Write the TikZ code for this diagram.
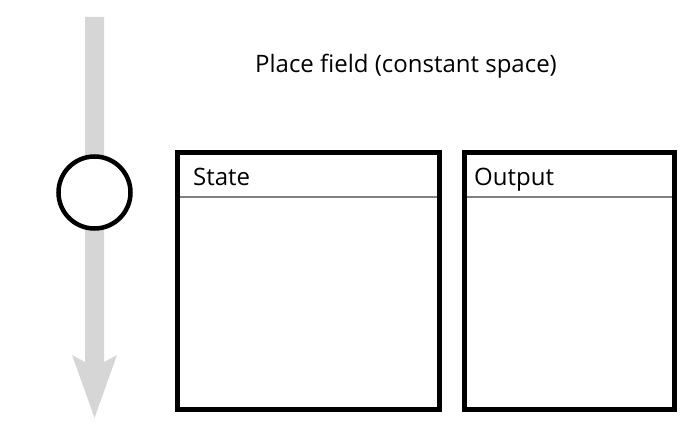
\documentclass[tikz,border=0pt]{standalone}
\usepackage{fontspec}
\setmainfont{Open Sans}
\begin{document}
\begin{tikzpicture}[x=1pt,y=-1pt,
  panel/.style={draw=black,line width=5pt,fill=white},
  sep/.style={draw=black!50,line width=2.5pt},
  lbl/.style={anchor=base west,inner sep=0pt,font=\fontsize{24}{28}\selectfont},
  ring/.style={circle,draw=black,line width=4.5pt,fill=white,minimum size=72pt,inner sep=0pt},
  flow/.style={fill=black!16}]
\useasboundingbox (0,0) rectangle (700,435);
% arrow
\fill[flow] (85,17) -- (104,17) -- (104,362) -- (117,355) -- (94.5,418) -- (72,355) -- (85,362) -- cycle;
\node[ring] (c) at (94.5,192.5) {};
% title
\node[anchor=base,inner sep=0pt,font=\fontsize{24}{28}\selectfont] (t) at (406,73) {Place field (constant space)};
% State box
\draw[panel] (177.5,152.5) rectangle (439,409);
\coordinate (sl) at (180,197);
\coordinate (sr) at (436.5,197);
\draw[sep] (sl) -- (sr);
\node[lbl] (st) at (193,185.5) {State};
% Output box
\draw[panel] (464,152.5) rectangle (674.5,409);
\coordinate (ol) at (466.5,197);
\coordinate (or) at (672,197);
\draw[sep] (ol) -- (or);
\node[lbl] (ou) at (474,185.5) {Output};
\end{tikzpicture}
\end{document}
